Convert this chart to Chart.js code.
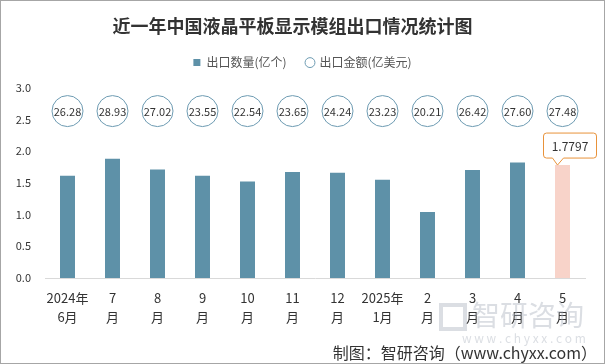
<!DOCTYPE html>
<html>
<head>
<meta charset="utf-8">
<script src="https://cdn.jsdelivr.net/npm/chart.js@4/dist/chart.umd.min.js"></script>
<style>
  html, body { margin: 0; padding: 0; background: #fff; }
  #wrap { width: 605px; height: 364px; position: relative; }
</style>
</head>
<body>
<div id="wrap"><canvas id="chart" width="605" height="364"></canvas></div>
<script>
const months = [['2024年', '6月'], ['7', '月'], ['8', '月'], ['9', '月'], ['10', '月'], ['11', '月'],
  ['12', '月'], ['2025年', '1月'], ['2', '月'], ['3', '月'], ['4', '月'], ['5', '月']]
const exportQty = [1.61, 1.88, 1.71, 1.61, 1.52, 1.67, 1.66, 1.55, 1.04, 1.70, 1.82, 1.7797]
const exportAmount = [26.28, 28.93, 27.02, 23.55, 22.54, 23.65, 24.24, 23.23, 20.21, 26.42, 27.60, 27.48]
const yTicks = [0, 0.5, 1.0, 1.5, 2.0, 2.5, 3.0]

// the amount circles sit in a row near the top of the value axis
const bubbleLevel = 2.63
const highlightIndex = exportQty.length - 1

const font = '"Noto Sans CJK SC", "Noto Sans", sans-serif'

const legendGap = {
  id: 'legendGap',
  beforeInit(chart) {
    const fit = chart.legend.fit
    chart.legend.fit = function () {
      fit.bind(chart.legend)()
      this.height += 9
    }
  },
  afterLayout(chart) {
    // legend in the original sits a little right of centre
    chart.legend.left += 10
    chart.legend.right += 10
  }
}

const decorations = {
  id: 'decorations',
  afterDatasetsDraw(chart) {
    const ctx = chart.ctx
    // amount labels inside circles
    const circles = chart.getDatasetMeta(1).data
    ctx.save()
    ctx.font = '11px ' + font
    ctx.fillStyle = '#333'
    ctx.textAlign = 'center'
    ctx.textBaseline = 'middle'
    circles.forEach((pt, i) => {
      ctx.fillText(exportAmount[i].toFixed(2), pt.x, pt.y + 1)
    })

    // callout on the latest month
    const bar = chart.getDatasetMeta(0).data[highlightIndex]
    const tipX = bar.x - 5
    const tipY = bar.y
    const left = tipX - 14
    const right = tipX + 39
    const top = tipY - 32
    const bottom = tipY - 7
    const r = 3
    ctx.beginPath()
    ctx.moveTo(left + r, top)
    ctx.lineTo(right - r, top)
    ctx.arcTo(right, top, right, top + r, r)
    ctx.lineTo(right, bottom - r)
    ctx.arcTo(right, bottom, right - r, bottom, r)
    ctx.lineTo(tipX + 6, bottom)
    ctx.lineTo(tipX, tipY)
    ctx.lineTo(tipX - 5, bottom)
    ctx.lineTo(left + r, bottom)
    ctx.arcTo(left, bottom, left, bottom - r, r)
    ctx.lineTo(left, top + r)
    ctx.arcTo(left, top, left + r, top, r)
    ctx.closePath()
    ctx.fillStyle = '#fff'
    ctx.fill()
    ctx.strokeStyle = '#e8923a'
    ctx.lineWidth = 1
    ctx.stroke()
    ctx.fillStyle = '#333'
    ctx.font = '12px ' + font
    ctx.fillText(exportQty[highlightIndex].toFixed(4), (left + right) / 2, (top + bottom) / 2 + 1)
    ctx.restore()
  },
  afterDraw(chart) {
    const ctx = chart.ctx
    ctx.save()
    // watermark
    ctx.fillStyle = 'rgba(165, 172, 186, 0.4)'
    ctx.textBaseline = 'middle'
    ctx.textAlign = 'left'
    ctx.font = '28px ' + font
    ctx.fillText('智研咨询', 472, 315)
    ctx.font = '12px ' + font
    ctx.fillText('w w w . c h y x x . c o m', 462, 338)
    ctx.strokeStyle = 'rgba(165, 172, 186, 0.4)'
    ctx.lineWidth = 4
    ctx.strokeRect(441, 305, 24, 24)
    // source line
    ctx.fillStyle = '#333'
    ctx.textAlign = 'right'
    ctx.font = '16px ' + font
    ctx.fillText('制图：智研咨询（www.chyxx.com）', 597, 353)
    // frame
    ctx.strokeStyle = '#a6a6a6'
    ctx.lineWidth = 1
    ctx.strokeRect(0.5, 0.5, chart.width - 1, chart.height - 1)
    ctx.restore()
  }
}

new Chart(document.getElementById('chart'), {
  type: 'bar',
  data: {
    labels: months,
    datasets: [
      {
        label: '出口数量(亿个)',
        data: exportQty,
        backgroundColor: exportQty.map((v, i) => i === highlightIndex ? '#f8d3c9' : '#5e91a8'),
        categoryPercentage: 1,
        barPercentage: 0.333,
        pointStyle: 'rect',
        order: 2
      },
      {
        type: 'line',
        label: '出口金额(亿美元)',
        data: exportAmount.map(() => bubbleLevel),
        showLine: false,
        pointRadius: 15.5,
        pointStyle: 'circle',
        pointBorderWidth: 1,
        pointBorderColor: '#6d9bb2',
        pointBackgroundColor: '#fff',
        borderColor: '#6d9bb2',
        backgroundColor: '#fff',
        order: 1
      }
    ]
  },
  options: {
    responsive: false,
    animation: false,
    events: [],
    layout: {
      padding: { left: 0, right: 20, top: 0, bottom: 27 }
    },
    scales: {
      x: {
        grid: { display: false, drawTicks: false },
        border: { color: '#d9d9d9' },
        ticks: {
          padding: 10,
          color: '#333',
          maxRotation: 0,
          autoSkip: false,
          font: { family: font, size: 13, lineHeight: 1.5 }
        }
      },
      y: {
        min: 0,
        max: 3,
        afterFit(scale) { scale.width = 45 },
        afterBuildTicks(scale) { scale.ticks = yTicks.map(v => ({ value: v })) },
        grid: { display: false, drawTicks: false },
        border: { display: false },
        ticks: {
          padding: 14,
          color: '#333',
          font: { family: font, size: 11 },
          callback: v => v.toFixed(1)
        }
      }
    },
    plugins: {
      tooltip: { enabled: false },
      title: {
        display: true,
        text: '近一年中国液晶平板显示模组出口情况统计图',
        color: '#333',
        font: { family: font, size: 18, weight: 'bold' },
        padding: { top: 15, bottom: 0 }
      },
      legend: {
        display: true,
        labels: {
          usePointStyle: true,
          boxWidth: 7,
          boxHeight: 7,
          padding: 20,
          color: '#555',
          font: { family: font, size: 12 },
          sort: (a, b) => a.datasetIndex - b.datasetIndex
        }
      }
    }
  },
  plugins: [legendGap, decorations]
})
</script>
</body>
</html>
